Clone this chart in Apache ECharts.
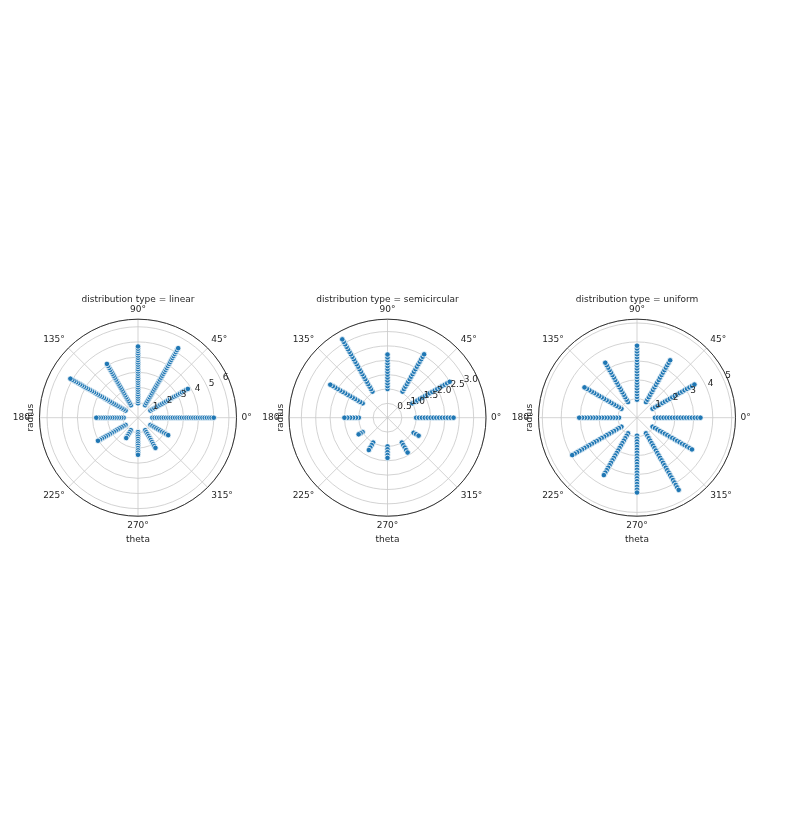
<!DOCTYPE html>
<html>
<head>
<meta charset="utf-8">
<script src="https://cdn.jsdelivr.net/npm/echarts@6/dist/echarts.min.js"></script>
<style>html,body{margin:0;padding:0;background:#fff}#c{width:803px;height:840px}</style>
</head>
<body>
<div id="c"></div>
<script>
// ---- data ----
const thetaDeg = [0, 30, 60, 90, 120, 150, 180, 210, 240, 270, 300, 330];
const panelNames = ['linear', 'semicircular', 'uniform'];

const linearR = [
  [0.95,1.1,1.25,1.4,1.55,1.7,1.85,2.0,2.15,2.3,2.45,2.6,2.75,2.9,3.05,3.2,3.35,3.5,3.65,3.8,3.95,4.1,4.25,4.4,4.55,4.7,4.85,5.0],
  [0.95,1.1,1.25,1.4,1.55,1.7,1.85,2.0,2.15,2.3,2.45,2.6,2.75,2.9,3.05,3.2,3.35,3.5,3.65,3.8],
  [0.95,1.1,1.25,1.4,1.55,1.7,1.85,2.0,2.15,2.3,2.45,2.6,2.75,2.9,3.05,3.2,3.35,3.5,3.65,3.8,3.95,4.1,4.25,4.4,4.55,4.7,4.85,5.0,5.15,5.3],
  [0.95,1.1,1.25,1.4,1.55,1.7,1.85,2.0,2.15,2.3,2.45,2.6,2.75,2.9,3.05,3.2,3.35,3.5,3.65,3.8,3.95,4.1,4.25,4.4,4.55,4.7],
  [0.95,1.1,1.25,1.4,1.55,1.7,1.85,2.0,2.15,2.3,2.45,2.6,2.75,2.9,3.05,3.2,3.35,3.5,3.65,3.8,3.95,4.1],
  [0.95,1.1,1.25,1.4,1.55,1.7,1.85,2.0,2.15,2.3,2.45,2.6,2.75,2.9,3.05,3.2,3.35,3.5,3.65,3.8,3.95,4.1,4.25,4.4,4.55,4.7,4.85,5.0,5.15],
  [0.95,1.1,1.25,1.4,1.55,1.7,1.85,2.0,2.15,2.3,2.45,2.6,2.75],
  [0.95,1.1,1.25,1.4,1.55,1.7,1.85,2.0,2.15,2.3,2.45,2.6,2.75,2.9,3.05],
  [0.95,1.1,1.25,1.4,1.55],
  [0.95,1.1,1.25,1.4,1.55,1.7,1.85,2.0,2.15,2.3,2.45],
  [0.95,1.1,1.25,1.4,1.55,1.7,1.85,2.0,2.15,2.3],
  [0.95,1.1,1.25,1.4,1.55,1.7,1.85,2.0,2.15,2.3]
];

const semicircularR = [
  [1.0,1.1,1.2,1.3,1.4,1.5,1.6,1.7,1.8,1.9,2.0,2.1,2.2,2.3],
  [1.0,1.1,1.2,1.3,1.4,1.5,1.6,1.7,1.8,1.9,2.0,2.1,2.2,2.3,2.4,2.5],
  [1.05,1.15,1.25,1.35,1.45,1.55,1.65,1.75,1.85,1.95,2.05,2.15,2.25,2.35,2.45,2.55],
  [1.0,1.1,1.2,1.3,1.4,1.5,1.6,1.7,1.8,1.9,2.0,2.1,2.2],
  [1.05,1.15,1.25,1.35,1.45,1.55,1.65,1.75,1.85,1.95,2.05,2.15,2.25,2.35,2.45,2.55,2.65,2.75,2.85,2.95,3.05,3.15],
  [1.0,1.1,1.2,1.3,1.4,1.5,1.6,1.7,1.8,1.9,2.0,2.1,2.2,2.3],
  [1.0,1.1,1.2,1.3,1.4,1.5],
  [1.0,1.08,1.16],
  [1.0,1.1,1.2,1.3],
  [1.0,1.1,1.2,1.3,1.4],
  [1.0,1.1,1.2,1.3,1.4],
  [1.05,1.15,1.25]
];

const uniformR = [
  [0.95,1.1,1.25,1.4,1.55,1.7,1.85,2.0,2.15,2.3,2.45,2.6,2.75,2.9,3.05,3.2,3.35],
  [0.95,1.1,1.25,1.4,1.55,1.7,1.85,2.0,2.15,2.3,2.45,2.6,2.75,2.9,3.05,3.2,3.35,3.5],
  [0.95,1.1,1.25,1.4,1.55,1.7,1.85,2.0,2.15,2.3,2.45,2.6,2.75,2.9,3.05,3.2,3.35,3.5],
  [0.95,1.1,1.25,1.4,1.55,1.7,1.85,2.0,2.15,2.3,2.45,2.6,2.75,2.9,3.05,3.2,3.35,3.5,3.65,3.8],
  [0.95,1.1,1.25,1.4,1.55,1.7,1.85,2.0,2.15,2.3,2.45,2.6,2.75,2.9,3.05,3.2,3.35],
  [0.95,1.1,1.25,1.4,1.55,1.7,1.85,2.0,2.15,2.3,2.45,2.6,2.75,2.9,3.05,3.2],
  [0.95,1.1,1.25,1.4,1.55,1.7,1.85,2.0,2.15,2.3,2.45,2.6,2.75,2.9,3.05],
  [0.95,1.1,1.25,1.4,1.55,1.7,1.85,2.0,2.15,2.3,2.45,2.6,2.75,2.9,3.05,3.2,3.35,3.5,3.65,3.8,3.95],
  [0.95,1.1,1.25,1.4,1.55,1.7,1.85,2.0,2.15,2.3,2.45,2.6,2.75,2.9,3.05,3.2,3.35,3.5],
  [0.95,1.1,1.25,1.4,1.55,1.7,1.85,2.0,2.15,2.3,2.45,2.6,2.75,2.9,3.05,3.2,3.35,3.5,3.65,3.8,3.95],
  [0.95,1.1,1.25,1.4,1.55,1.7,1.85,2.0,2.15,2.3,2.45,2.6,2.75,2.9,3.05,3.2,3.35,3.5,3.65,3.8,3.95,4.1,4.25,4.4],
  [0.95,1.1,1.25,1.4,1.55,1.7,1.85,2.0,2.15,2.3,2.45,2.6,2.75,2.9,3.05,3.2,3.35]
];

const radiusTicksLinear = [1, 2, 3, 4, 5, 6];
const radiusTicksSemicircular = [0.5, 1.0, 1.5, 2.0, 2.5, 3.0];
const radiusTicksUniform = [1, 2, 3, 4, 5];
const radiusMax = [6.5, 3.43, 5.2];
const radiusStep = [1, 0.5, 1];
const angleTicks = [0, 45, 90, 135, 180, 225, 270, 315];

// ---- layout ----
const centersX = [138, 387.5, 637];
const centerY = 417.7;
const R = 98.5;
const FONT = 'DejaVu Sans';
const TXT = '#262626';

const allR = [linearR, semicircularR, uniformR];
const allTicks = [radiusTicksLinear, radiusTicksSemicircular, radiusTicksUniform];
const tickFmt = [v => String(v), v => v.toFixed(1), v => String(v)];

const polar = [], angleAxis = [], radiusAxis = [], series = [], graphic = [];
for (let p = 0; p < 3; p++) {
  polar.push({ center: [centersX[p], centerY], radius: R });
  angleAxis.push({
    polarIndex: p, type: 'value', min: 0, max: 360, interval: 45,
    startAngle: 0, clockwise: false,
    axisLine: { show: true, lineStyle: { color: '#333', width: 1 } },
    axisTick: { show: false },
    splitLine: { show: true, lineStyle: { color: '#c8c8c8', width: 0.8 } },
    axisLabel: {
      margin: 5, fontFamily: FONT, fontSize: 9, color: TXT,
      formatter: v => (angleTicks.indexOf(v) >= 0 ? v + '°' : '')
    }
  });
  radiusAxis.push({
    polarIndex: p, type: 'value', min: 0, max: radiusMax[p], interval: radiusStep[p],
    axisLine: { show: false }, axisTick: { show: false }, axisLabel: { show: false },
    splitLine: { show: true, lineStyle: { color: '#c8c8c8', width: 0.8 } }
  });
  const data = [];
  allR[p].forEach((rs, i) => rs.forEach(r => data.push([r, thetaDeg[i]])));
  series.push({
    type: 'scatter', coordinateSystem: 'polar', polarIndex: p,
    data: data, symbolSize: 5.5, progressive: 0, animation: false,
    itemStyle: { color: '#1f77b4', borderColor: '#ffffff', borderWidth: 0.8, opacity: 1 },
    z: 5
  });
}
for (let p = 0; p < 3; p++) {
  // label-only polar: radius tick labels along 22.5°
  polar.push({ center: [centersX[p], centerY], radius: R });
  const idx = 3 + p;
  angleAxis.push({
    polarIndex: idx, type: 'value', min: 0, max: 360, startAngle: 22.5, clockwise: false,
    show: false
  });
  const ticks = allTicks[p];
  radiusAxis.push({
    polarIndex: idx, type: 'value', min: 0, max: radiusMax[p], interval: radiusStep[p],
    axisLine: { show: false }, axisTick: { show: false }, splitLine: { show: false },
    axisLabel: {
      show: true, fontFamily: FONT, fontSize: 9, color: TXT, margin: 6,
      align: 'center', verticalAlign: 'middle', padding: [0, 0, 0, 12],
      formatter: v => (ticks.some(t => Math.abs(t - v) < 1e-6) ? tickFmt[p](v) : '')
    },
    z: 10
  });
  graphic.push({
    type: 'text', x: centersX[p], y: 300,
    style: { text: 'distribution type = ' + panelNames[p], font: '9px ' + FONT, fill: TXT, align: 'center', verticalAlign: 'middle' }
  });
  graphic.push({
    type: 'text', x: centersX[p], y: 540,
    style: { text: 'theta', font: '9px ' + FONT, fill: TXT, align: 'center', verticalAlign: 'middle' }
  });
  graphic.push({
    type: 'text', x: centersX[p] - 107, y: centerY, rotation: Math.PI / 2,
    style: { text: 'radius', font: '9px ' + FONT, fill: TXT, align: 'center', verticalAlign: 'middle' }
  });
}

const chart = echarts.init(document.getElementById('c'), null, { renderer: 'canvas' });
chart.setOption({
  backgroundColor: '#ffffff',
  animation: false,
  polar, angleAxis, radiusAxis, series, graphic
});
</script>
</body>
</html>
